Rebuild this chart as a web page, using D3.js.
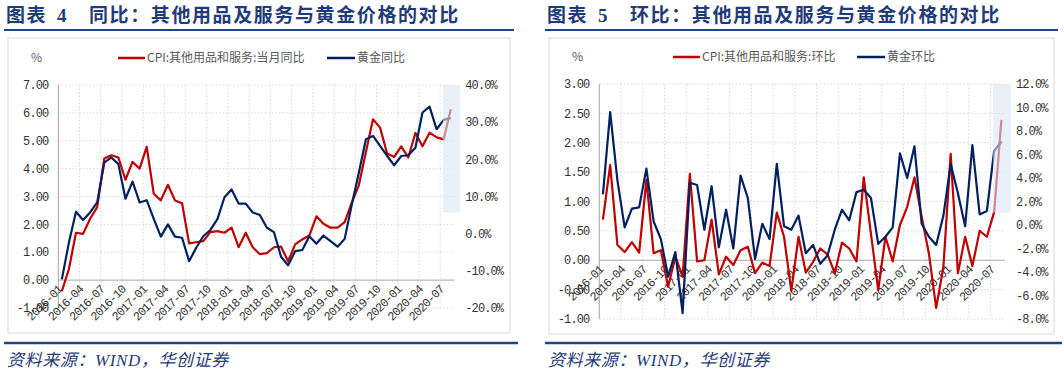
<!DOCTYPE html>
<html>
<head>
<meta charset="utf-8">
<style>
  body { margin: 0; background: #fff; }
  .tick { font-family: "Liberation Mono", monospace; font-size: 12px; letter-spacing: -0.9px; fill: #333; }
  .legend { font-family: "Noto Sans CJK SC", sans-serif; font-size: 12px; fill: #595959; }
</style>
</head>
<body>
<div id="chart"></div>
<script src="https://d3js.org/d3.v7.min.js"></script>
<script>
// monthly categories 2016-01 .. 2020-08
var months = [
  "2016-01","2016-02","2016-03","2016-04","2016-05","2016-06","2016-07","2016-08","2016-09","2016-10","2016-11","2016-12",
  "2017-01","2017-02","2017-03","2017-04","2017-05","2017-06","2017-07","2017-08","2017-09","2017-10","2017-11","2017-12",
  "2018-01","2018-02","2018-03","2018-04","2018-05","2018-06","2018-07","2018-08","2018-09","2018-10","2018-11","2018-12",
  "2019-01","2019-02","2019-03","2019-04","2019-05","2019-06","2019-07","2019-08","2019-09","2019-10","2019-11","2019-12",
  "2020-01","2020-02","2020-03","2020-04","2020-05","2020-06","2020-07","2020-08"
];

// 同比 (left: CPI %, right: gold %)
var cpiYoY = [-0.40, 0.40, 1.70, 1.66, 2.20, 2.62, 4.36, 4.48, 4.40, 3.60, 4.24, 4.00,
  4.78, 3.10, 2.86, 3.42, 2.86, 2.76, 1.32, 1.36, 1.40, 1.72, 1.76, 1.70,
  1.88, 1.18, 1.70, 1.18, 0.93, 0.97, 1.18, 1.20, 0.68, 1.28, 1.46, 1.60,
  2.29, 2.02, 1.88, 1.88, 2.08, 2.78, 3.40, 4.60, 5.77, 5.47, 4.54, 4.42,
  4.80, 4.40, 5.28, 4.80, 5.29, 5.12, 5.05, 6.13];
var goldYoY = [-12.3, -2.4, 5.9, 3.7, 5.7, 8.4, 19.1, 20.5, 18.7, 9.4, 14.0, 8.4,
  9.0, 4.0, -0.8, 2.5, -0.8, -1.1, -7.4, -3.8, -0.7, 1.0, 3.9, 9.8,
  11.9, 8.1, 8.1, 5.7, 5.0, 1.6, 0.4, -6.2, -8.5, -4.7, -4.4, -0.7,
  -2.7, -0.5, -2.0, -3.5, -1.4, 7.8, 16.4, 25.4, 26.3, 23.6, 20.9, 18.4,
  20.9, 21.1, 23.1, 32.6, 34.2, 28.1, 30.6, 31.1];

// 环比 (left: CPI %, right: gold %)
var cpiMoM = [0.69, 1.62, 0.26, 0.14, 0.31, 0.13, 1.37, 0.12, 0.17, -0.45, 0.06, -0.28,
  1.47, -0.02, 0.00, 0.69, -0.24, 0.06, -0.08, 0.17, 0.23, -0.22, -0.04, -0.10,
  0.81, 0.40, -0.52, 0.40, -0.21, -0.03, 0.20, 0.10, -0.22, 0.30, 0.20, -0.02,
  1.41, 0.45, -0.51, 0.40, -0.02, 0.60, 0.91, 1.41, 0.74, 0.11, -0.81, -0.11,
  1.81, -0.22, 0.40, -0.10, 0.50, 0.40, 0.82, 2.39];
var goldMoM = [2.6, 9.6, 3.8, -0.2, 1.4, 1.5, 4.8, 0.3, -1.2, -4.4, -2.3, -7.5,
  3.6, 3.4, -0.4, 3.3, -1.9, 1.3, -2.0, 4.2, 2.3, -2.9, 0.1, -1.2,
  5.2, -0.1, -0.4, 0.8, -2.4, -1.7, -3.3, -2.6, -0.4, 1.3, 0.4, 2.8,
  3.0, 2.3, -1.6, -1.0, -0.2, 6.1, 4.0, 6.7, 0.1, -1.0, -1.7, 0.8,
  5.2, 2.7, -0.1, 6.8, 0.9, 1.2, 6.3, 7.1];

var yoyLeftTicks = [7, 6, 5, 4, 3, 2, 1, 0, -1];
var yoyRightTicks = [40, 30, 20, 10, 0, -10, -20];
var momLeftTicks = [3, 2.5, 2, 1.5, 1, 0.5, 0, -0.5, -1];
var momRightTicks = [12, 10, 8, 6, 4, 2, 0, -2, -4, -6, -8];

var red = "#c00000", navy = "#002060", titleBlue = "#1f3c78", ruleBlue = "#1c4587";

var svg = d3.select("#chart").append("svg")
  .attr("width", 1064)
  .attr("height", 377);

function panel(c) {
  var g = svg.append("g");

  // title + rules
  g.append("text").attr("x", c.fx - 2).attr("y", 22)
    .style("font-family", "'Noto Sans CJK SC'").style("font-weight", "bold")
    .style("font-size", "19px").style("letter-spacing", "1.5px").attr("fill", titleBlue)
    .text("图表");
  g.append("text").attr("x", c.fx + 49).attr("y", 22)
    .style("font-family", "'Liberation Serif'").style("font-weight", "bold")
    .style("font-size", "19px").attr("fill", titleBlue)
    .text(c.num);
  g.append("text").attr("x", c.fx + 81).attr("y", 22)
    .style("font-family", "'Noto Sans CJK SC'").style("font-weight", "bold")
    .style("font-size", "19px").style("letter-spacing", "1.6px").attr("fill", titleBlue)
    .text(c.title);
  g.append("line").attr("x1", c.fx - 4).attr("x2", c.fx2 + 4).attr("y1", 30).attr("y2", 30)
    .attr("stroke", ruleBlue).attr("stroke-width", 2);
  g.append("line").attr("x1", c.fx - 4).attr("x2", c.fx2 + 8).attr("y1", 343).attr("y2", 343)
    .attr("stroke", ruleBlue).attr("stroke-width", 2.5);
  g.append("text").attr("x", c.fx - 1).attr("y", 366)
    .style("font-family", "'Liberation Serif', 'Noto Sans CJK SC'").style("font-style", "italic")
    .style("font-size", "17px").style("letter-spacing", "0.6px").attr("fill", titleBlue)
    .text("资料来源：WIND，华创证券");

  // chart frame
  g.append("rect").attr("x", c.fx).attr("y", 38).attr("width", c.fx2 - c.fx).attr("height", c.fy2 - 38)
    .attr("fill", "#fff").attr("stroke", "#d9d9d9");

  var x = d3.scaleBand().domain(months).range([c.x0, c.x1]);
  var yL = d3.scaleLinear().domain(c.leftDomain).range([c.y1, c.y0]);
  var yR = d3.scaleLinear().domain(c.rightDomain).range([c.y1, c.y0]);
  var cx = function (m) { return x(m) + x.bandwidth() / 2; };

  // gridlines
  g.selectAll(".hg").data(c.leftTicks.filter(function (t) { return t !== 0; })).enter()
    .append("line")
    .attr("x1", c.x0).attr("x2", c.x1)
    .attr("y1", function (d) { return yL(d); }).attr("y2", function (d) { return yL(d); })
    .attr("stroke", "#d9d9d9").attr("stroke-dasharray", "1.5,2");
  g.selectAll(".vg").data(months.filter(function (m, i) { return i % 3 === 0 && i > 0; })).enter()
    .append("line")
    .attr("x1", function (d) { return x(d); }).attr("x2", function (d) { return x(d); })
    .attr("y1", c.y0).attr("y2", c.y1)
    .attr("stroke", "#d9d9d9").attr("stroke-dasharray", "1.5,2");

  // axes lines
  g.append("line").attr("x1", c.x0).attr("x2", c.x0).attr("y1", c.y0).attr("y2", c.y1)
    .attr("stroke", "#a6a6a6");
  g.append("line").attr("x1", c.x0).attr("x2", c.x1).attr("y1", yL(0)).attr("y2", yL(0))
    .attr("stroke", "#a6a6a6");

  // tick labels
  g.selectAll(".lt").data(c.leftTicks).enter().append("text")
    .attr("class", "tick")
    .attr("x", c.x0 - 10).attr("y", function (d) { return yL(d); })
    .attr("dy", "0.35em").attr("text-anchor", "end")
    .text(function (d) { return d.toFixed(2); });
  g.selectAll(".rt").data(c.rightTicks).enter().append("text")
    .attr("class", "tick")
    .attr("x", c.x1 + 11).attr("y", function (d) { return yR(d); })
    .attr("dy", "0.35em").attr("text-anchor", "start")
    .text(function (d) { return d.toFixed(1) + "%"; });
  g.selectAll(".xt").data(months.filter(function (m, i) { return i % 3 === 0; })).enter().append("text")
    .attr("class", "tick")
    .attr("transform", function (d) { return "translate(" + (cx(d) - 2) + "," + (yL(0) + 7) + ")rotate(-45)"; })
    .attr("dy", "0.35em").attr("text-anchor", "end")
    .text(function (d) { return d; });

  // series
  var lineL = d3.line().x(function (d, i) { return cx(months[i]); }).y(function (d) { return yL(d); });
  var lineR = d3.line().x(function (d, i) { return cx(months[i]); }).y(function (d) { return yR(d); });
  g.append("path").attr("d", lineL(c.cpi)).attr("fill", "none").attr("stroke", red)
    .attr("stroke-width", 2.2).attr("stroke-linejoin", "round");
  g.append("path").attr("d", lineR(c.gold)).attr("fill", "none").attr("stroke", navy)
    .attr("stroke-width", 2.2).attr("stroke-linejoin", "round");

  // highlighted latest month
  g.append("rect")
    .attr("x", cx(months[54]) - 1).attr("y", yR(c.shade[0]))
    .attr("width", c.x1 + 6 - cx(months[54]) + 1).attr("height", yR(c.shade[1]) - yR(c.shade[0]))
    .attr("fill", "#dce6f4").attr("opacity", 0.6);

  // legend
  g.append("text").attr("class", "legend").attr("x", c.fx + 23).attr("y", c.ly + 4).text("%");
  g.append("line").attr("x1", c.lx).attr("x2", c.lx + 27).attr("y1", c.ly).attr("y2", c.ly)
    .attr("stroke", red).attr("stroke-width", 2.5);
  g.append("text").attr("class", "legend").attr("x", c.lx + 29).attr("y", c.ly + 4).text(c.leg1);
  g.append("line").attr("x1", c.lx2).attr("x2", c.lx2 + 28).attr("y1", c.ly).attr("y2", c.ly)
    .attr("stroke", navy).attr("stroke-width", 2.5);
  g.append("text").attr("class", "legend").attr("x", c.lx2 + 30).attr("y", c.ly + 4).text(c.leg2);
}

panel({
  num: "4", title: "同比：其他用品及服务与黄金价格的对比",
  fx: 8, fx2: 510, fy2: 333,
  x0: 58.3, x1: 454.3, y0: 85, y1: 308,
  leftDomain: [-1, 7], rightDomain: [-20, 40],
  leftTicks: yoyLeftTicks, rightTicks: yoyRightTicks,
  cpi: cpiYoY, gold: goldYoY, shade: [40, 5.7],
  lx: 118, lx2: 327, ly: 58,
  leg1: "CPI:其他用品和服务:当月同比", leg2: "黄金同比"
});

panel({
  num: "5", title: "环比：其他用品及服务与黄金价格的对比",
  fx: 549, fx2: 1054, fy2: 334,
  x0: 599.3, x1: 1005, y0: 84, y1: 319,
  leftDomain: [-1, 3], rightDomain: [-8, 12],
  leftTicks: momLeftTicks, rightTicks: momRightTicks,
  cpi: cpiMoM, gold: goldMoM, shade: [12, 1.05],
  lx: 673, lx2: 857, ly: 57,
  leg1: "CPI:其他用品和服务:环比", leg2: "黄金环比"
});
</script>
</body>
</html>
